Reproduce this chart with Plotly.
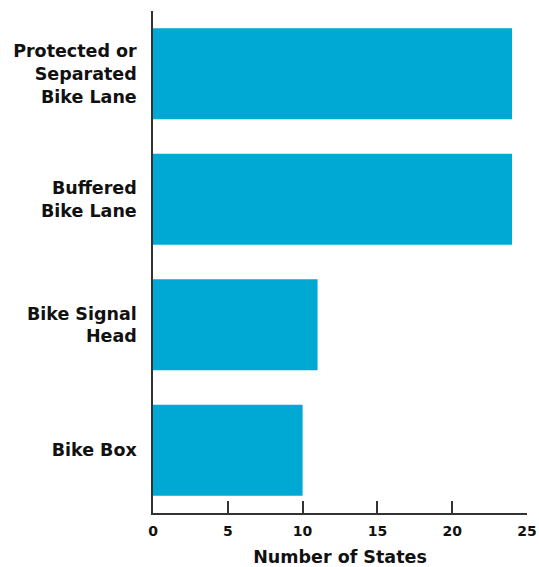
import plotly.graph_objects as go

# Bike facility types and the number of states using each
facilities = [
    "Protected or<br>Separated<br>Bike Lane",
    "Buffered<br>Bike Lane",
    "Bike Signal<br>Head",
    "Bike Box",
]
num_states = [24, 24, 11, 10]
x_ticks = [0, 5, 10, 15, 20, 25]

bar_color = "#00A9D4"
axis_color = "#333333"
font_family = "DejaVu Sans"

fig = go.Figure(
    go.Bar(
        x=num_states,
        y=facilities,
        orientation="h",
        marker=dict(color=bar_color, line=dict(width=0)),
        hoverinfo="x+y",
    )
)

fig.update_layout(
    width=539,
    height=567,
    margin=dict(l=153, r=12, t=11, b=54),
    paper_bgcolor="white",
    plot_bgcolor="white",
    bargap=0.275,
    showlegend=False,
    font=dict(family=font_family, color="#111111"),
)

fig.update_xaxes(
    range=[0, 25],
    tickvals=x_ticks,
    ticktext=[str(v) for v in x_ticks],
    ticks="inside",
    ticklen=12,
    tickwidth=1.5,
    tickcolor=axis_color,
    showline=True,
    linecolor=axis_color,
    linewidth=1.5,
    showgrid=False,
    zeroline=False,
    automargin=False,
    ticklabelstandoff=4,
    tickfont=dict(size=14, family=font_family, weight="bold"),
    title=dict(
        text="Number of States",
        font=dict(size=17.5, family=font_family, weight="bold"),
        standoff=14,
    ),
)

fig.update_yaxes(
    categoryorder="array",
    categoryarray=facilities[::-1],
    autorange=False,
    range=[-0.5, 3.5],
    showline=True,
    linecolor=axis_color,
    linewidth=1.5,
    ticks="",
    showgrid=False,
    zeroline=False,
    automargin=False,
    ticklabelstandoff=11,
    tickfont=dict(size=17.5, family=font_family, weight="bold"),
)

fig.write_html("out.html")
